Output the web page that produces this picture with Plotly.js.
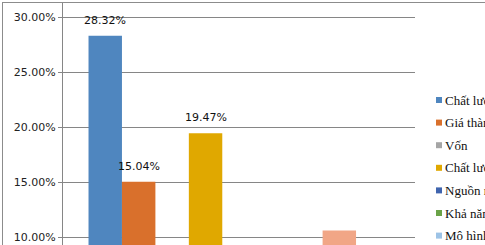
<!DOCTYPE html>
<html>
<head>
<meta charset="utf-8">
<script src="https://cdn.plot.ly/plotly-3.0.1.min.js"></script>
<style>
html,body{margin:0;padding:0;overflow:hidden;background:#fff;width:485px;height:245px;}
#frame{position:absolute;left:2px;top:2px;width:700px;height:500px;border:1px solid #8c8c8c;box-sizing:border-box;}
#chart{position:absolute;left:0;top:0;width:485px;height:245px;}
</style>
</head>
<body>
<div id="frame"></div>
<div id="chart"></div>
<script>
// Data (series under 9.3% are cut off in the reference and estimated)
var category = ["Yếu tố"];
var seriesNames = [
  "Chất lượng sản phẩm",
  "Giá thành sản phẩm",
  "Vốn",
  "Chất lượng dịch vụ",
  "Nguồn nhân lực",
  "Khả năng cạnh tranh",
  "Mô hình kinh doanh",
  "Thương hiệu",
  "Khác"
];
var seriesValues = [0.2832, 0.1504, 0.0531, 0.1947, 0.0708, 0.0442, 0.0354, 0.1062, 0.0265];
var showLabel = [true, true, true, true, true, true, true, false, true];
var seriesColors = ["#4F86BF", "#D9702C", "#A5A5A5", "#E0A800", "#3F64AE", "#6AA347", "#9DC3E6", "#F1A686", "#8C8C8C"];

var bargap = 0.145;
var nSeries = seriesNames.length;

var traces = seriesNames.map(function(name, i){
  return {
    type: "bar",
    name: name,
    x: category,
    y: [seriesValues[i]],
    marker: {color: seriesColors[i]},
    showlegend: false,
    hoverinfo: "none"
  };
});

var plotL = 63, plotR = 415, plotT = 3, plotB = 245;
var W = plotR - plotL, H = plotB - plotT;
function px2x(px){ return (px - plotL) / W; }
function py2y(py){ return (plotB - py) / H; }
var annotations = [], shapes = [];

// data labels above each grouped bar (positions follow the group layout of the category axis)
var slot = (1 - bargap) / nSeries;
seriesValues.forEach(function(v, i){
  if (!showLabel[i]) return;
  annotations.push({
    xref: "x", yref: "y",
    x: -0.5 + bargap / 2 + (i + 0.5) * slot,
    y: v, yanchor: "bottom", xanchor: "center", yshift: 7,
    showarrow: false, text: (v * 100).toFixed(2) + "%",
    font: {family: "DejaVu Sans", size: 11, color: "#111"}
  });
});

// legend drawn as annotations + small squares
seriesNames.forEach(function(name, i){
  var cy = 100 + i * 22.6;
  shapes.push({type: "rect", xref: "paper", yref: "paper",
    x0: px2x(436), x1: px2x(442), y0: py2y(cy + 3), y1: py2y(cy - 3),
    fillcolor: seriesColors[i], line: {width: 0}});
  annotations.push({xref: "paper", yref: "paper", x: px2x(443), y: py2y(cy),
    xanchor: "left", yanchor: "middle", showarrow: false, text: name,
    font: {family: "Liberation Serif", size: 13, color: "#111"}});
});

var layout = {
  width: 485, height: 245,
  margin: {l: plotL, r: 485 - plotR, t: plotT, b: 0, pad: 0},
  paper_bgcolor: "rgba(0,0,0,0)",
  plot_bgcolor: "rgba(0,0,0,0)",
  barmode: "group",
  bargap: bargap,
  bargroupgap: 0,
  showlegend: false,
  xaxis: {showticklabels: false, showgrid: false, zeroline: false, showline: false, ticks: ""},
  yaxis: {
    range: [0.0930, 0.3130],
    tickvals: [0.10, 0.15, 0.20, 0.25, 0.30],
    tickformat: ".2%",
    showline: true, linecolor: "#868686", linewidth: 1,
    ticks: "outside", ticklen: 4, tickcolor: "#868686",
    showgrid: true, gridcolor: "#868686", gridwidth: 1,
    zeroline: false,
    tickfont: {family: "DejaVu Sans", size: 11, color: "#222"}
  },
  annotations: annotations,
  shapes: shapes
};
Plotly.newPlot("chart", traces, layout, {staticPlot: true, displayModeBar: false});
</script>
</body>
</html>
